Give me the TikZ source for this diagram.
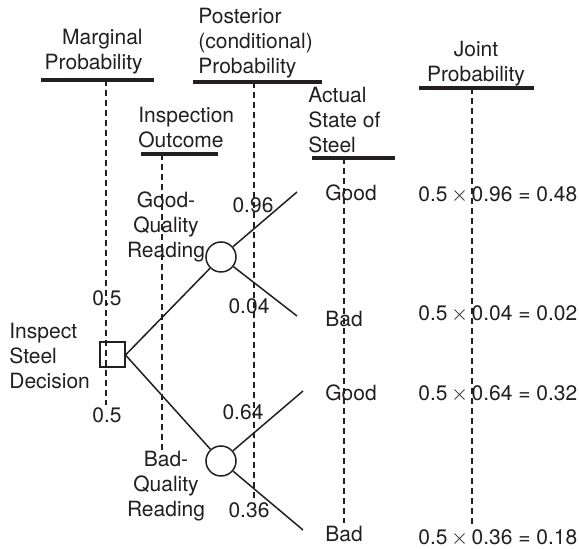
\documentclass[tikz,border=0pt]{standalone}
\usepackage{fontspec}
\setmainfont{TeX Gyre Heros}
\usetikzlibrary{arrows.meta, calc}
\definecolor{tinta}{RGB}{35,31,32}
\newcommand{\por}{\,$\times$\,}
\tikzset{
  barra/.style    = {tinta, line width=2pt},
  guia/.style     = {tinta, line width=0.8pt, dash pattern=on 3pt off 2pt},
  rama/.style     = {tinta, line width=0.75pt},
  decision/.style = {draw=tinta, line width=1pt, minimum size=12.5pt, inner sep=0pt},
  azar/.style     = {circle, draw=tinta, line width=0.75pt, minimum size=15pt, inner sep=0pt},
  rotulo/.style   = {text=tinta, inner sep=0pt, font=\fontsize{10.5}{12.5}\selectfont}
}

\begin{document}
\begin{tikzpicture}[x=0.5pt, y=-0.5pt]
  \useasboundingbox (0,0) rectangle (579,549);

  % column headings (base = last line)
  \node[rotulo, align=right, anchor=base east] (marg) at (143,70) {Marginal\\Probability};
  \node[rotulo, align=left, anchor=base west] (post) at (198,74) {Posterior\\(conditional)\\Probability};
  \node[rotulo, align=left, anchor=base west] (insp) at (138,148) {Inspection\\Outcome};
  \node[rotulo, align=left, anchor=base west] (real) at (308,153) {Actual\\State of\\Steel};
  \node[rotulo, align=center, anchor=base] (conj) at (476,82) {Joint\\Probability};

  \foreach \a/\b/\y in {41/154/80, 141/218/154, 193/322/82, 312/395/158, 419/534/88}
    \draw[barra] (\a,\y) -- (\b,\y);
  \foreach \x/\a/\b in {106/80/405, 162/154/450, 254/82/502, 344/158/523, 472/88/527}
    \draw[guia] (\x,\a) -- (\x,\b);

  % tree
  \node[decision] (dec) at (112,355) {};
  \node[azar] (cbuena) at (221,257) {};
  \node[azar] (cmala) at (221,461) {};
  \coordinate (f1) at (297,192);
  \coordinate (f2) at (297,316);
  \coordinate (f3) at (303,391);
  \coordinate (f4) at (303,530);

  \draw[rama] (dec.east) -- (cbuena);
  \draw[rama] (dec.east) -- (cmala);
  \draw[rama] (cbuena) -- (f1);
  \draw[rama] (cbuena) -- (f2);
  \draw[rama] (cmala) -- (f3);
  \draw[rama] (cmala) -- (f4);

  \node[rotulo, align=left, anchor=base west] (ldec) at (9,389) {Inspect\\Steel\\Decision};
  \node[rotulo, align=center, anchor=base] (lbuena) at (166,258) {Good-\\Quality\\Reading};
  \node[rotulo, align=center, anchor=base] (lmala) at (166,517) {Bad-\\Quality\\Reading};

  \node[rotulo, anchor=base] (p1) at (107,306) {0.5};
  \node[rotulo, anchor=base] (p2) at (107,423) {0.5};
  \node[rotulo, anchor=base] (q1) at (253,213) {0.96};
  \node[rotulo, anchor=base] (q2) at (249,314) {0.04};
  \node[rotulo, anchor=base] (q3) at (243,420) {0.64};
  \node[rotulo, anchor=base] (q4) at (249,518) {0.36};

  \node[rotulo, anchor=base west] (e1) at (325,201) {Good};
  \node[rotulo, anchor=base west] (e2) at (325,327) {Bad};
  \node[rotulo, anchor=base west] (e3) at (325,401) {Good};
  \node[rotulo, anchor=base west] (e4) at (325,542) {Bad};

  \node[rotulo, anchor=base west] (j1) at (418,202) {0.5\por 0.96 = 0.48};
  \node[rotulo, anchor=base west] (j2) at (418,321) {0.5\por 0.04 = 0.02};
  \node[rotulo, anchor=base west] (j3) at (418,401) {0.5\por 0.64 = 0.32};
  \node[rotulo, anchor=base west] (j4) at (418,545) {0.5\por 0.36 = 0.18};
\end{tikzpicture}
\end{document}
